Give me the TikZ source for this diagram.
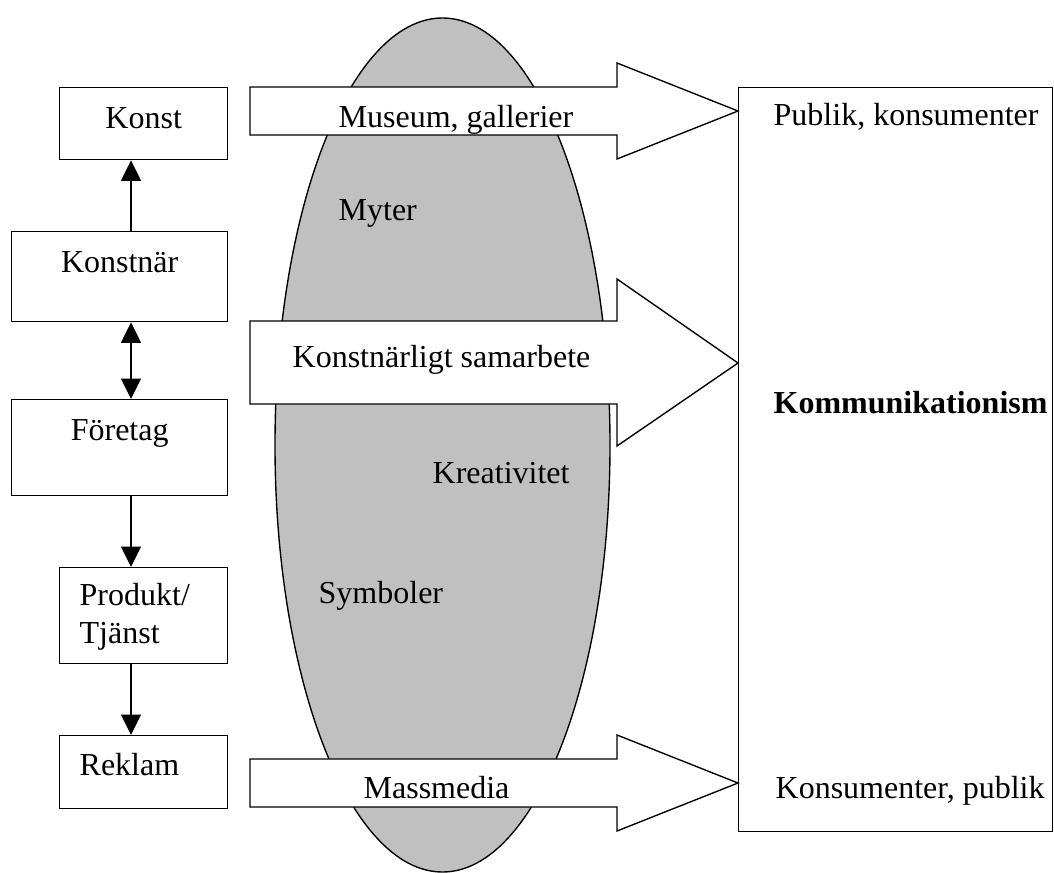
\documentclass[tikz,border=0pt]{standalone}
\usepackage{fontspec}
\setmainfont{Liberation Serif}
\usetikzlibrary{arrows.meta}
\definecolor{ovalgray}{RGB}{192,192,192}

\begin{document}
\begin{tikzpicture}[
    x=0.4pt, y=-0.4pt,
    >={Triangle[length=8.2pt, width=8pt]},
    line width=0.55pt,
    every node/.style={font=\fontsize{12.8}{15.2}\selectfont, inner sep=0pt},
    box/.style={draw, anchor=north west, align=center},
    leftbox/.style={box, align=left, inner xsep=8pt, text width=51.2pt},
    link/.style={->},
    oval/.style={draw, fill=ovalgray},
    blockarrow/.style={draw, fill=white, line join=miter},
    caption/.style={anchor=base west},
]
\useasboundingbox (0,0) rectangle (1054,873);

% =====================================================================
%  OVAL (behind everything)
% =====================================================================
\draw[oval] (442.5,445) ellipse [x radius=167.5, y radius=427];

% =====================================================================
%  BLOCK ARROWS across the oval
% =====================================================================
\draw[blockarrow] (250,87) -- (617,87) -- (617,63) -- (738,111)
    -- (617,159) -- (617,135) -- (250,135) -- cycle;
\draw[blockarrow] (250,321) -- (617,321) -- (617,279) -- (738,363)
    -- (617,446) -- (617,404) -- (250,404) -- cycle;
\draw[blockarrow] (250,759) -- (617,759) -- (617,735) -- (738,783)
    -- (617,831) -- (617,807) -- (250,807) -- cycle;

\node[caption] (museum) at (338,127) {Museum, gallerier};
\node[caption] (samarbete) at (292,367) {Konstnärligt samarbete};
\node[caption] (massmedia) at (363,798) {Massmedia};

% Words inside the oval
\node[caption] (myter) at (338,220) {Myter};
\node[caption] (kreativitet) at (432,483) {Kreativitet};
\node[caption] (symboler) at (318,603) {Symboler};

% =====================================================================
%  LEFT COLUMN
% =====================================================================
\node[box, text width=67.2pt, text height=16.4pt, text depth=12.4pt]
    (konst) at (59,87) {Konst};
\node[box, text width=86.4pt, text height=16.4pt, text depth=19.6pt]
    (konstnar) at (11,231) {Konstnär};
\node[box, text width=86.4pt, text height=16.4pt, text depth=22pt]
    (foretag) at (11,399) {Företag};
\node[leftbox, text height=15.2pt, text depth=23.2pt]
    (produkt) at (59,567) {Produkt/\\Tjänst};
\node[leftbox, text height=16pt, text depth=13.2pt]
    (reklam) at (59,735) {Reklam};

\coordinate (spine) at (131,0);
\draw[link] (konstnar.north -| spine) -- (konst.south -| spine);
\draw[link, <->] (konstnar.south -| spine) -- (foretag.north -| spine);
\draw[link] (foretag.south -| spine) -- (produkt.north -| spine);
\draw[link] (produkt.south -| spine) -- (reklam.north -| spine);

% =====================================================================
%  RIGHT BOX
% =====================================================================
\node[draw, anchor=north west, minimum width=125.6pt, minimum height=297.6pt]
    (publik) at (738,87) {};
\node[caption] (publiktext) at (773,125) {Publik, konsumenter};
\node[caption, font=\fontsize{12.8}{15.2}\selectfont\bfseries]
    (kommunikation) at (773,413) {Kommunikationism};
\node[caption] (konsumtext) at (775,798) {Konsumenter, publik};

\end{tikzpicture}
\end{document}
